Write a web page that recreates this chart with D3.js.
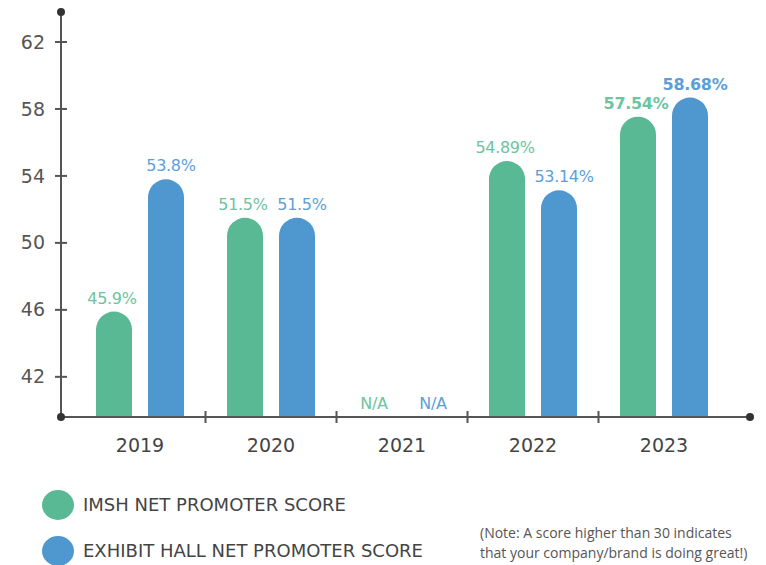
<!DOCTYPE html>
<html>
<head>
<meta charset="utf-8">
<script src="https://cdn.jsdelivr.net/npm/d3@7"></script>
<style>
  body { margin: 0; background: #fff; }
  svg { display: block; }
</style>
</head>
<body>
<div id="chart"></div>
<script>
// data
const years = ['2019', '2020', '2021', '2022', '2023'];
const series = ['IMSH NET PROMOTER SCORE', 'EXHIBIT HALL NET PROMOTER SCORE'];
const imshScores = [45.9, 51.5, null, 54.89, 57.54];
const exhibitScores = [53.8, 51.5, null, 53.14, 58.68];
const imshLabels = ['45.9%', '51.5%', 'N/A', '54.89%', '57.54%'];
const exhibitLabels = ['53.8%', '51.5%', 'N/A', '53.14%', '58.68%'];
const boldYears = ['2023'];
const yTicks = [42, 46, 50, 54, 58, 62];
const noteLines = ['(Note: A score higher than 30 indicates', 'that your company/brand is doing great!)'];

const barColors = ['#58b994', '#4f97cf'];
const labelColors = ['#6cc4a0', '#5c9fd8'];
const labelShift = [-2, 5];
const axisColor = '#555';

var width = 766, height = 565;
var axisX = 61, axisY = 417, topY = 12, rightX = 750;

var svg = d3.select('#chart').append('svg')
    .attr('width', width)
    .attr('height', height);

var y = d3.scaleLinear()
    .domain([39.6, 62])
    .range([axisY, 42]);

var x = d3.scaleBand()
    .domain(years)
    .range([74.5, 729.5]);

var xSub = d3.scaleBand()
    .domain(series)
    .range([x.bandwidth() / 2 - 44, x.bandwidth() / 2 + 44])
    .paddingInner(16 / 52);

// build rows from the arrays
var rows = years.map(function(yr, i) {
    return [
        { year: yr, s: series[0], v: imshScores[i], label: imshLabels[i], k: 0 },
        { year: yr, s: series[1], v: exhibitScores[i], label: exhibitLabels[i], k: 1 }
    ];
});
var flat = [].concat.apply([], rows);

// y axis line + ticks
var yAxis = d3.axisLeft(y).tickValues(yTicks).tickSize(0).tickPadding(14);
var gy = svg.append('g')
    .attr('transform', 'translate(' + axisX + ',0)')
    .call(yAxis);
gy.select('.domain').remove();
gy.selectAll('text')
    .style('font-family', 'DejaVu Sans, sans-serif')
    .style('font-size', '19px')
    .attr('fill', '#555')
    .attr('dx', '-2');

svg.append('line')
    .attr('x1', axisX).attr('x2', axisX)
    .attr('y1', topY).attr('y2', axisY)
    .attr('stroke', axisColor).attr('stroke-width', 2);

svg.selectAll('.ytick')
    .data(yTicks)
    .enter().append('line')
    .attr('class', 'ytick')
    .attr('x1', axisX - 6).attr('x2', axisX + 6)
    .attr('y1', function(d) { return y(d); })
    .attr('y2', function(d) { return y(d); })
    .attr('stroke', axisColor).attr('stroke-width', 2);

// bars with rounded tops
function barPath(d) {
    var x0 = x(d.year) + xSub(d.s), w = xSub.bandwidth(), r = w / 2;
    var top = y(d.v);
    return 'M' + x0 + ',' + axisY +
        'V' + (top + r) +
        'A' + r + ',' + r + ' 0 0 1 ' + (x0 + w) + ',' + (top + r) +
        'V' + axisY + 'Z';
}

svg.selectAll('.bar')
    .data(flat.filter(function(d) { return d.v !== null; }))
    .enter().append('path')
    .attr('class', 'bar')
    .attr('d', barPath)
    .attr('fill', function(d) { return barColors[d.k]; });

// value labels
svg.selectAll('.val')
    .data(flat)
    .enter().append('text')
    .attr('class', 'val')
    .attr('x', function(d) { return x(d.year) + xSub(d.s) + xSub.bandwidth() / 2 + labelShift[d.k]; })
    .attr('y', function(d) { return d.v === null ? axisY - 8 : y(d.v) - 8; })
    .attr('text-anchor', 'middle')
    .style('font-family', 'DejaVu Sans, sans-serif')
    .style('font-size', '16px')
    .style('letter-spacing', '-0.3px')
    .style('font-weight', function(d) { return boldYears.indexOf(d.year) >= 0 ? 'bold' : 'normal'; })
    .attr('fill', function(d) { return labelColors[d.k]; })
    .text(function(d) { return d.label; });

// x axis
svg.append('line')
    .attr('x1', axisX).attr('x2', rightX)
    .attr('y1', axisY).attr('y2', axisY)
    .attr('stroke', axisColor).attr('stroke-width', 2);

svg.selectAll('.xsep')
    .data(years.slice(1))
    .enter().append('line')
    .attr('class', 'xsep')
    .attr('x1', function(d) { return x(d); })
    .attr('x2', function(d) { return x(d); })
    .attr('y1', axisY - 6).attr('y2', axisY + 6)
    .attr('stroke', axisColor).attr('stroke-width', 2);

var xAxis = d3.axisBottom(x).tickSize(0).tickPadding(22);
var gx = svg.append('g')
    .attr('transform', 'translate(0,' + axisY + ')')
    .call(xAxis);
gx.select('.domain').remove();
gx.selectAll('text')
    .style('font-family', 'DejaVu Sans, sans-serif')
    .style('font-size', '19px')
    .attr('fill', '#444');

// end dots
svg.selectAll('.enddot')
    .data([[axisX, topY], [axisX, axisY], [rightX, axisY]])
    .enter().append('circle')
    .attr('class', 'enddot')
    .attr('cx', function(d) { return d[0]; })
    .attr('cy', function(d) { return d[1]; })
    .attr('r', 4)
    .attr('fill', '#333');

// legend
var legend = svg.selectAll('.legend')
    .data(series)
    .enter().append('g')
    .attr('class', 'legend')
    .attr('transform', function(d, i) { return 'translate(58,' + (505 + i * 46) + ')'; });

legend.append('ellipse')
    .attr('rx', 16).attr('ry', 15)
    .attr('fill', function(d, i) { return barColors[i]; });

legend.append('text')
    .attr('x', 25)
    .attr('dy', '0.35em')
    .style('font-family', 'DejaVu Sans, sans-serif')
    .style('font-size', '18px')
    .attr('fill', '#444')
    .text(function(d) { return d; });

// note
svg.append('text')
    .attr('x', 480)
    .attr('y', 538)
    .style('font-family', 'Open Sans, sans-serif')
    .style('font-size', '14px')
    .attr('fill', '#555')
    .selectAll('tspan')
    .data(noteLines)
    .enter().append('tspan')
    .attr('x', 480)
    .attr('dy', function(d, i) { return i ? 20 : 0; })
    .text(function(d) { return d; });
</script>
</body>
</html>
